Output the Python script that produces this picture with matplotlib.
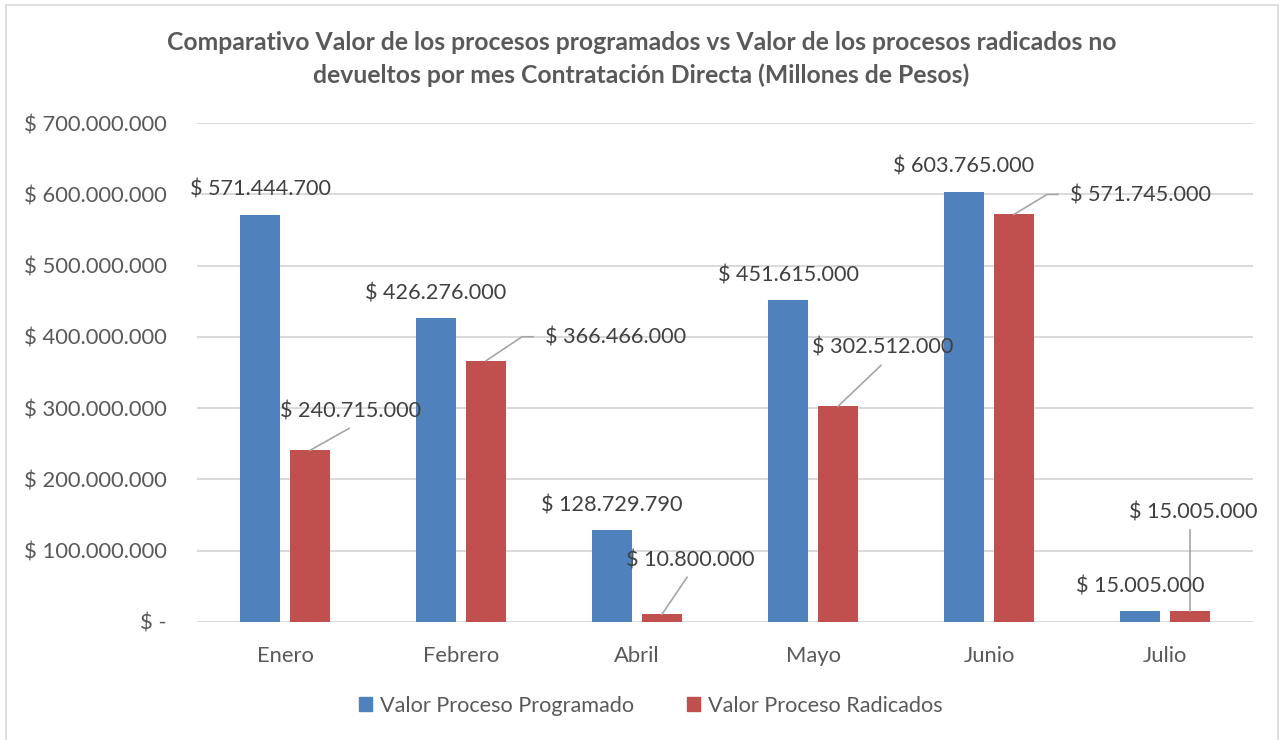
import numpy as np
import matplotlib
matplotlib.use("Agg")
import matplotlib.pyplot as plt
from matplotlib.patches import Patch, Rectangle
from matplotlib.transforms import IdentityTransform

plt.rcParams["font.family"] = ["Lato", "DejaVu Sans"]

# --- data ---------------------------------------------------------------
meses = ["Enero", "Febrero", "Abril", "Mayo", "Junio", "Julio"]
programado = [571444700, 426276000, 128729790, 451615000, 603765000, 15005000]
radicados = [240715000, 366466000, 10800000, 302512000, 571745000, 15005000]
series = ["Valor Proceso Programado", "Valor Proceso Radicados"]
yticks = [0, 100e6, 200e6, 300e6, 400e6, 500e6, 600e6, 700e6]

titulo = ["Comparativo Valor de los procesos programados vs Valor de los procesos radicados no",
          "devueltos por mes Contratación Directa (Millones de Pesos)"]

# label placement of the red series (pixels from bar top): text centre, leader vertices
red_txt = [(41, 39), (130, 23), (28, 54), (45, 59), (127, 19), (3, 99)]
red_lead = [[(39, 22)], [(36, 24), (47, 24)], [(25, 37)], [(43, 41)],
            [(33, 20), (44, 20)], [(0, 81)]]

BLUE = "#4F81BD"
RED = "#C0504D"
GRID = "#D9D9D9"
TXT = "#595959"
LBL = "#404040"


def pesos(v):
    if v == 0:
        return "$ -"
    return "$ " + f"{v:,.0f}".replace(",", ".")


# --- figure ---------------------------------------------------------------
fig = plt.figure(figsize=(12.83, 7.40), dpi=100)
fig.patches.append(Rectangle((6 / 1283, -0.01), 1272 / 1283, 1 - 5 / 740 + 0.01,
                             transform=fig.transFigure, fill=False,
                             edgecolor=GRID, lw=1.2))
ax = fig.add_axes([197 / 1283, 1 - 622 / 740, (1253 - 197) / 1283, (622 - 123) / 740])

x = np.arange(len(meses))
w = 0.227
off = 0.142
b1 = ax.bar(x - off, programado, w, color=BLUE, zorder=3)
b2 = ax.bar(x + off, radicados, w, color=RED, zorder=3)

ax.set_xlim(-0.5, len(meses) - 0.5)
ax.set_ylim(0, 700e6)
ax.set_yticks(yticks)
ax.set_yticklabels([pesos(v) for v in yticks])
ax.set_xticks(x)
ax.set_xticklabels(meses)
ax.tick_params(axis="y", length=0, pad=21.6, labelsize=15.8, labelcolor=TXT)
ax.tick_params(axis="x", length=0, pad=17.5, labelsize=15.8, labelcolor=TXT)
ax.grid(axis="y", color=GRID, lw=1.4, zorder=0)
for s in ax.spines.values():
    s.set_visible(False)

for line, ypx in zip(titulo, (43, 75)):
    fig.text(0.5, 1 - ypx / 740, line, ha="center", va="center", fontsize=17.8,
             fontweight="bold", color=TXT)

# blue labels above bars
for xi, v in zip(x, programado):
    ax.annotate(pesos(v), (xi - off, v), xytext=(0, 25), textcoords="offset pixels",
                ha="center", va="center", fontsize=15.6, color=LBL, zorder=5)

# red labels with leader lines
for xi, v, t, lead in zip(x, radicados, red_txt, red_lead):
    ax.annotate(pesos(v), (xi + off, v), xytext=t, textcoords="offset pixels",
                ha="center", va="center", fontsize=15.6, color=LBL, zorder=5)
    px, py = ax.transData.transform((xi + off, v))
    xs = [px] + [px + d[0] for d in lead]
    ys = [py] + [py + d[1] for d in lead]
    ax.plot(xs, ys, color="#A6A6A6", lw=1.2, transform=IdentityTransform(),
            zorder=4, clip_on=False)

handles = [Patch(color=BLUE), Patch(color=RED)]
fig.legend(handles, series, loc="center", bbox_to_anchor=(0.507, 1 - 706 / 740),
           ncol=2, frameon=False, fontsize=15.6, labelcolor=TXT,
           handlelength=0.62, handleheight=0.62, handletextpad=0.35,
           columnspacing=2.45)

fig.savefig("out.png", dpi=100)
